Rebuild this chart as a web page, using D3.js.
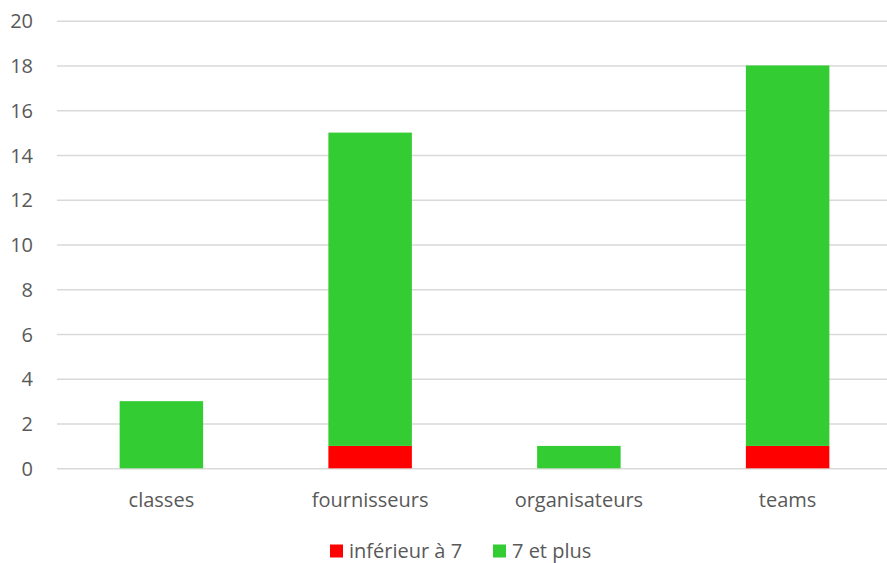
<!DOCTYPE html>
<html><head><meta charset="utf-8">
<script src="https://cdn.jsdelivr.net/npm/d3@7"></script>
<style>body{margin:0;background:#fff}svg{display:block}text{font-family:"Open Sans",sans-serif;fill:#595959}</style>
</head><body>
<script>
const categories = ["classes","fournisseurs","organisateurs","teams"];
const seriesNames = ["inférieur à 7","7 et plus"];
const inferieur = [0,1,0,1];
const septPlus = [3,14,1,17];
const seriesColors = ["#FF0000","#33CC33"];
const yTicks = [0,2,4,6,8,10,12,14,16,18,20];

const W=887,H=563;
const svg=d3.select("body").append("svg").attr("width",W).attr("height",H);
const x=d3.scaleBand().domain(categories).range([57,892]).paddingInner(0.6).paddingOuter(0.3);
const y=d3.scaleLinear().domain([0,20]).range([468.3,20.7]);

const yAxis=svg.append("g").attr("transform","translate(57,0)")
  .call(d3.axisLeft(y).tickValues(yTicks).tickSize(-835).tickPadding(24));
yAxis.select(".domain").remove();
yAxis.selectAll(".tick line").attr("stroke","#d9d9d9").attr("stroke-width",1.4);
yAxis.selectAll(".tick text").style("font-size","20px").attr("fill","#595959")
  .attr("font-family","'Open Sans', sans-serif").attr("dy","0.36em");

const rows=categories.map((c,i)=>({cat:c,"inférieur à 7":inferieur[i],"7 et plus":septPlus[i]}));
const stack=d3.stack().keys(seriesNames)(rows);
svg.append("g").selectAll("g").data(stack).join("g").attr("fill",(d,i)=>seriesColors[i])
  .selectAll("rect").data(d=>d).join("rect")
  .attr("x",d=>x(d.data.cat)).attr("width",x.bandwidth())
  .attr("y",d=>y(d[1])).attr("height",d=>y(d[0])-y(d[1]));

const xAxis=svg.append("g").attr("transform","translate(0,468.3)")
  .call(d3.axisBottom(x).tickSize(0).tickPadding(24));
xAxis.select(".domain").remove();
xAxis.selectAll(".tick text").style("font-size","20px").attr("fill","#595959")
  .attr("font-family","'Open Sans', sans-serif").attr("dy","0.73em");

const legend=svg.append("g");
const lx=[330,493];
seriesNames.forEach((s,i)=>{
  legend.append("rect").attr("x",lx[i]).attr("y",544.5).attr("width",13).attr("height",13).attr("fill",seriesColors[i]);
  legend.append("text").attr("x",lx[i]+19).attr("y",557.5).style("font-size","20px").text(s);
});
</script>
</body></html>
